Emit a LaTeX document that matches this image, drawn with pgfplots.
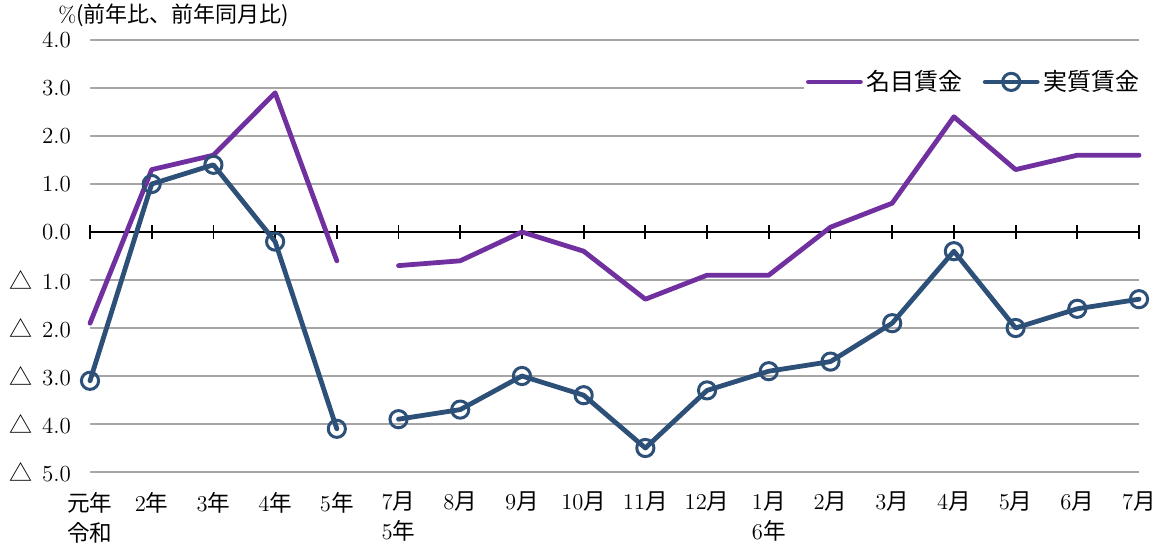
\documentclass[border=0pt]{standalone}
\usepackage{fontspec}
\usepackage{pgfplots}
\pgfplotsset{compat=1.18}
\newfontfamily\cjk{Noto Sans CJK JP}
\newcommand\J[1]{{\cjk #1}}
\newcommand\T{\J{△}\hspace{5pt}}
\definecolor{nom}{HTML}{7030A0}
\definecolor{real}{HTML}{2D5079}
\definecolor{gridc}{HTML}{A6A6A6}
\begin{document}
\begin{tikzpicture}
\begin{axis}[
  at={(0,0)}, anchor=south west,
  scale only axis,
  width=524.5pt, height=216pt,
  xmin=0, xmax=17, ymin=-5, ymax=4,
  clip=false,
  axis line style={draw=none},
  ymajorgrids=true,
  grid style={gridc, line width=1pt},
  ytick={-5,-4,-3,-2,-1,0,1,2,3,4},
  yticklabels={\T 5.0,\T 4.0,\T 3.0,\T 2.0,\T 1.0,0.0,1.0,2.0,3.0,4.0},
  yticklabel style={anchor=east, xshift=-6pt, font=\fontsize{11.5}{12}\selectfont},
  xtick={0,...,17},
  xticklabels={{\J{元年}\\\J{令和}},2\J{年},3\J{年},4\J{年},5\J{年},{7\J{月}\\5\J{年}},8\J{月},9\J{月},10\J{月},11\J{月},12\J{月},{1\J{月}\\6\J{年}},2\J{月},3\J{月},4\J{月},5\J{月},6\J{月},7\J{月}},
  xticklabel style={anchor=north, yshift=-6.5pt, align=center, font=\fontsize{11.3}{15}\selectfont},
  major tick length=0pt,
  unbounded coords=jump,
  legend columns=2,
  legend style={at={(1,0.903)}, anchor=east, xshift=3.5pt, draw=none, fill=white, font=\cjk\fontsize{12}{13}\selectfont, inner xsep=1pt, inner ysep=3pt,
    /tikz/every even column/.append style={column sep=8pt}},
  legend image code/.code={\draw[mark repeat=2,mark phase=2,#1] plot coordinates {(0pt,0pt) (13pt,0pt) (26pt,0pt)};},
]
\draw[black, line width=1.1pt] (axis cs:0,0) -- (axis cs:17,0);
\pgfplotsinvokeforeach{0,...,17}{
  \draw[black, line width=0.9pt] ([yshift=-3.5pt]axis cs:#1,0) -- ([yshift=3.5pt]axis cs:#1,0);
}
\addplot[nom, line width=2.4pt, line cap=round, line join=round] coordinates {
(0,-1.9)(1,1.3)(2,1.6)(3,2.9)(4,-0.6)(4.5,nan)(5,-0.7)(6,-0.6)(7,0.0)(8,-0.4)(9,-1.4)(10,-0.9)(11,-0.9)(12,0.1)(13,0.6)(14,2.4)(15,1.3)(16,1.6)(17,1.6)};
\addlegendentry{名目賃金}
\addplot[real, line width=2.4pt, line cap=round, line join=round, mark=o, mark size=4.3pt, mark options={fill=white, line width=1.5pt}] coordinates {
(0,-3.1)(1,1.0)(2,1.4)(3,-0.2)(4,-4.1)(4.5,nan)(5,-3.9)(6,-3.7)(7,-3.0)(8,-3.4)(9,-4.5)(10,-3.3)(11,-2.9)(12,-2.7)(13,-1.9)(14,-0.4)(15,-2.0)(16,-1.6)(17,-1.4)};
\addlegendentry{実質賃金}
\end{axis}
\node[anchor=west, inner sep=0pt, font=\fontsize{11}{12}\selectfont] at (-16pt,228.5pt) {\%\J{(前年比、前年同月比)}};
\pgfresetboundingbox
\path (-45pt,-39pt) rectangle (532pt,236pt);
\end{tikzpicture}
\end{document}
